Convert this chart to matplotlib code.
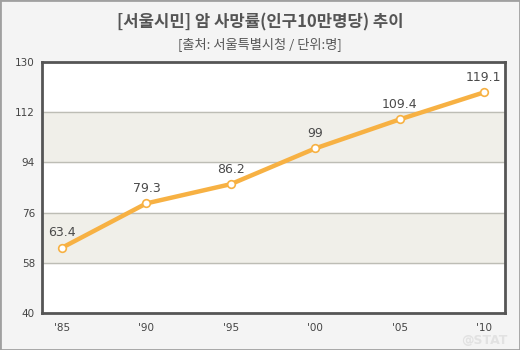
import matplotlib
matplotlib.use("Agg")
import matplotlib.pyplot as plt
from matplotlib.patches import Rectangle

plt.rcParams['font.family'] = ['Noto Sans CJK KR', 'DejaVu Sans']

years = ["'85", "'90", "'95", "'00", "'05", "'10"]
values = [63.4, 79.3, 86.2, 99, 109.4, 119.1]
labels = ["63.4", "79.3", "86.2", "99", "109.4", "119.1"]
yticks = [40, 58, 76, 94, 112, 130]
title = "[서울시민] 암 사망률(인구10만명당) 추이"
subtitle = "[출처: 서울특별시청 / 단위:명]"

fig = plt.figure(figsize=(5.2, 3.5), dpi=100, facecolor='#f4f4f4')
fig.patches.append(Rectangle((0, 0), 1, 1, transform=fig.transFigure,
                             fill=False, edgecolor='#a0a0a0', linewidth=2))

ax = fig.add_axes([42/520, 1-313/350, (505-42)/520, (313-62)/350])
ax.set_facecolor('white')
x = list(range(len(years)))
ax.set_xlim(-0.237, 5.25)
ax.set_ylim(yticks[0], yticks[-1])

for i in range(1, len(yticks) - 1, 2):
    ax.axhspan(yticks[i], yticks[i+1], color='#f0efe9', zorder=0)
for t in yticks[1:-1]:
    ax.axhline(t, color='#bdbdb5', linewidth=1, zorder=1)

ax.plot(x, values, color='#f7b143', linewidth=3.2, zorder=3, solid_capstyle='round')
ax.plot(x, values, linestyle='none', marker='o', markersize=5.5,
        markerfacecolor='white', markeredgecolor='#f7b143', markeredgewidth=1.2, zorder=4)
for xi, v, lab in zip(x, values, labels):
    ax.annotate(lab, (xi, v), xytext=(0, 6), textcoords='offset points',
                ha='center', va='bottom', fontsize=9, color='#4a4a4a',
                family=['DejaVu Sans'])

ax.set_yticks(yticks)
ax.set_yticklabels([str(t) for t in yticks])
ax.set_xticks(x)
ax.set_xticklabels(years)
ax.tick_params(axis='both', length=0, labelsize=7.5, colors='#444444', pad=5)
ax.tick_params(axis='x', pad=7)
for lab in ax.get_xticklabels() + ax.get_yticklabels():
    lab.set_family(['DejaVu Sans'])
for s in ax.spines.values():
    s.set_color('#555555')
    s.set_linewidth(2)

fig.text(0.5, 1-22/350, title, ha='center', va='center', fontsize=12,
         fontweight='bold', color='#555555')
fig.text(0.5, 1-44/350, subtitle, ha='center', va='center', fontsize=9.5,
         color='#555555')
fig.text(484/520, 1-341/350, "@STAT", ha='center', va='center', fontsize=9,
         fontweight='bold', color='#e2e2e2', family=['DejaVu Sans'])

fig.savefig('out.png', dpi=100, facecolor=fig.get_facecolor())
